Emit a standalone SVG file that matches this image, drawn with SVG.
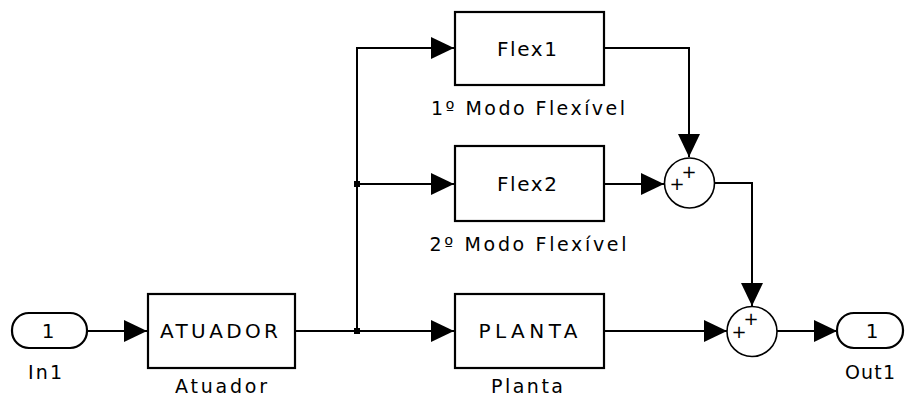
<svg xmlns="http://www.w3.org/2000/svg" width="905" height="399" viewBox="0 0 905 399">
  <style>
    .blk { fill: #fff; stroke: #000; stroke-width: 2.2; }
    .sum { fill: #fff; stroke: #000; stroke-width: 1.6; }
    .wire { fill: none; stroke: #000; stroke-width: 2; }
    .t { font-family: "DejaVu Sans", "Liberation Sans", sans-serif; font-size: 20px; fill: #000; text-anchor: middle; }
    .lbl { font-family: "DejaVu Sans", "Liberation Sans", sans-serif; font-size: 19px; fill: #000; text-anchor: middle; }
    .pl { font-family: "DejaVu Sans", "Liberation Sans", sans-serif; font-size: 18px; fill: #000; text-anchor: middle; }
  </style>
  <defs>
    <marker id="arr" markerUnits="userSpaceOnUse" markerWidth="26" markerHeight="24" refX="23" refY="11" orient="auto">
      <path d="M0,0 L23,11 L0,22 Z" fill="#000"/>
    </marker>
  </defs>
  <rect x="0" y="0" width="905" height="399" fill="#fff"/>

  <g id="connectors">
    <path class="wire" d="M87,331 H147" marker-end="url(#arr)"/>
    <path class="wire" d="M295,331 H357"/>
    <path class="wire" d="M357,331 H454" marker-end="url(#arr)"/>
    <path class="wire" d="M357,331 V48 H454" marker-end="url(#arr)"/>
    <path class="wire" d="M357,184 H454" marker-end="url(#arr)"/>
    <path class="wire" d="M604,48 H689 V157" marker-end="url(#arr)"/>
    <path class="wire" d="M604,184 H664" marker-end="url(#arr)"/>
    <path class="wire" d="M715,183 H752 V306" marker-end="url(#arr)"/>
    <path class="wire" d="M604,331 H727" marker-end="url(#arr)"/>
    <path class="wire" d="M777,331 H837" marker-end="url(#arr)"/>
    <rect x="354" y="181" width="6" height="6" fill="#000"/>
    <rect x="354" y="328" width="6" height="6" fill="#000"/>
  </g>

  <g id="In1">
    <rect class="blk" x="12" y="313" width="75" height="35" rx="17" ry="17"/>
    <text class="t" x="48" y="338">1</text>
    <text class="lbl" x="45" y="379" textLength="34" lengthAdjust="spacing">In1</text>
  </g>

  <g id="Atuador">
    <rect class="blk" x="148" y="294" width="147" height="74"/>
    <text class="t" x="219" y="338" textLength="118" lengthAdjust="spacing">ATUADOR</text>
    <text class="lbl" x="221" y="393" textLength="92" lengthAdjust="spacing">Atuador</text>
  </g>

  <g id="Flex1">
    <rect class="blk" x="455" y="12" width="149" height="73"/>
    <text class="t" x="527" y="56" textLength="60" lengthAdjust="spacing">Flex1</text>
    <text class="lbl" x="528" y="115" textLength="194" lengthAdjust="spacing">1º Modo Flexível</text>
  </g>

  <g id="Flex2">
    <rect class="blk" x="455" y="146" width="149" height="75"/>
    <text class="t" x="527" y="191" textLength="60" lengthAdjust="spacing">Flex2</text>
    <text class="lbl" x="528" y="251" textLength="197" lengthAdjust="spacing">2º Modo Flexível</text>
  </g>

  <g id="Planta">
    <rect class="blk" x="455" y="294" width="149" height="74"/>
    <text class="t" x="528" y="338" textLength="99" lengthAdjust="spacing">PLANTA</text>
    <text class="lbl" x="527" y="393" textLength="72" lengthAdjust="spacing">Planta</text>
  </g>

  <g id="Sum1">
    <circle class="sum" cx="689.5" cy="183" r="25"/>
    <text class="pl" x="689" y="178">+</text>
    <text class="pl" x="677" y="190">+</text>
  </g>

  <g id="Sum2">
    <circle class="sum" cx="752" cy="331.5" r="25"/>
    <text class="pl" x="751" y="325">+</text>
    <text class="pl" x="739" y="338">+</text>
  </g>

  <g id="Out1">
    <rect class="blk" x="837" y="313" width="66" height="35" rx="17" ry="17"/>
    <text class="t" x="872" y="338">1</text>
    <text class="lbl" x="870" y="379" textLength="50" lengthAdjust="spacing">Out1</text>
  </g>
</svg>
